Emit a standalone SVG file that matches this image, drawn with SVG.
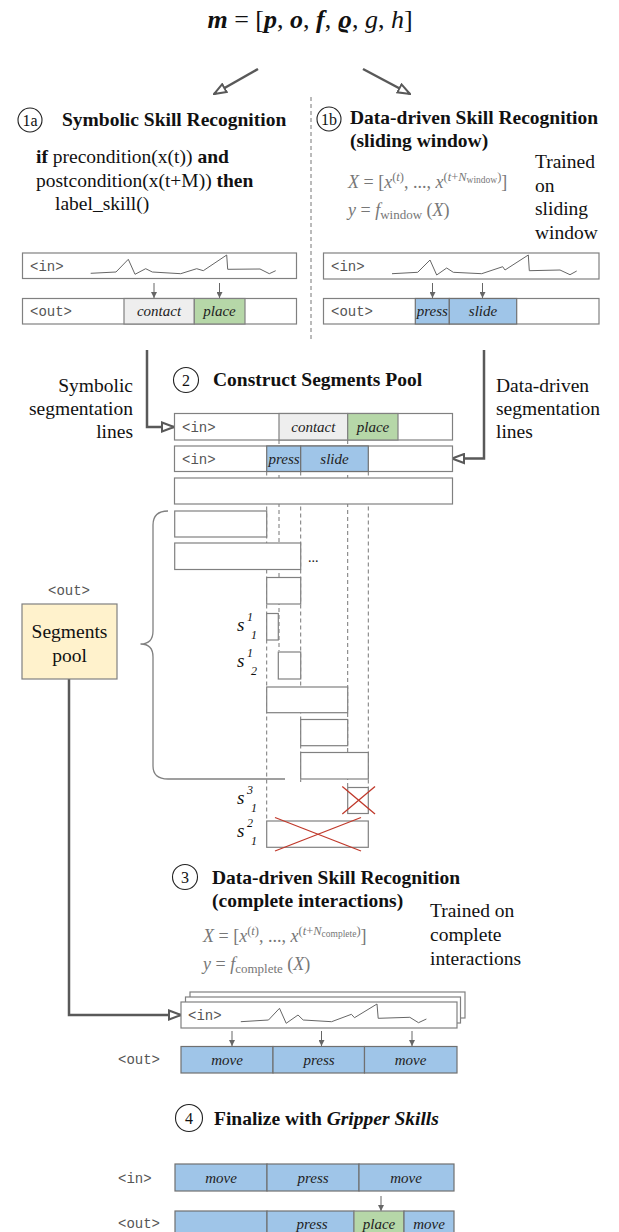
<svg xmlns="http://www.w3.org/2000/svg" width="619" height="1232" viewBox="0 0 619 1232">
<style>
.t{font-family:"Liberation Serif",serif;fill:#111}
.h{font-family:"Liberation Serif",serif;font-weight:bold;font-size:19.5px;fill:#111}
.b{font-family:"Liberation Serif",serif;font-size:19.5px;fill:#111}
.m{font-family:"Liberation Mono",monospace;font-size:14px;fill:#555}
.c{font-family:"Liberation Serif",serif;font-style:italic;font-size:15px;fill:#222;text-anchor:middle}
.fm{font-family:"Liberation Serif",serif;font-size:18px;fill:#777}
.box{fill:#fff;stroke:#808080;stroke-width:1.2}
.gr{fill:#eeeeee;stroke:#808080;stroke-width:1.2}
.gn{fill:#b6d7a8;stroke:#808080;stroke-width:1.2}
.bl{fill:#9fc5e8;stroke:#707070;stroke-width:1.2}
.circ{fill:#fff;stroke:#222;stroke-width:1.1}
.num{font-family:"Liberation Serif",serif;font-size:16px;fill:#111;text-anchor:middle}
.wave{fill:none;stroke:#666;stroke-width:1}
.big{fill:none;stroke:#595959;stroke-width:2.5;marker-end:url(#open)}
.sm{fill:none;stroke:#666;stroke-width:1;marker-end:url(#tri)}
.dash{fill:none;stroke:#777;stroke-width:1;stroke-dasharray:4 3}
.seg{fill:#fff;stroke:#808080;stroke-width:1.2}
.x{stroke:#c0392b;stroke-width:1.3;fill:none}
.si{font-family:"Liberation Serif",serif;font-style:italic;fill:#111}
</style>
<defs>
<marker id="open" viewBox="0 0 14 12" refX="13" refY="6" markerWidth="14" markerHeight="12" markerUnits="userSpaceOnUse" orient="auto">
<path d="M1,1.5 L13,6 L1,10.5 z" fill="#fff" stroke="#595959" stroke-width="2"/>
</marker>
<marker id="tri" viewBox="0 0 6 6" refX="6" refY="3" markerWidth="6" markerHeight="6" markerUnits="userSpaceOnUse" orient="auto">
<path d="M0,0 L6,3 L0,6 z" fill="#666"/>
</marker>
</defs>

<g id="formula-m">
<text class="t" x="310" y="28" text-anchor="middle" font-size="26"><tspan font-weight="bold" font-style="italic">m</tspan> = [<tspan font-weight="bold" font-style="italic">p</tspan>, <tspan font-weight="bold" font-style="italic">o</tspan>, <tspan font-weight="bold" font-style="italic">f</tspan>, <tspan font-weight="bold" font-style="italic">ϱ</tspan>, <tspan font-style="italic">g</tspan>, <tspan font-style="italic">h</tspan>]</text>
</g>

<g id="connectors">
<line class="big" x1="258" y1="69" x2="214" y2="94"/>
<line class="big" x1="363" y1="69" x2="410" y2="94"/>
<line class="dash" x1="311" y1="97" x2="311" y2="340" stroke-dasharray="3 2"/>
<path class="big" d="M147,350 V427 H174"/>
<path class="big" d="M484,350 V458.5 H452"/>
<path class="big" d="M69,679 V1015 H181"/>
<line class="sm" x1="154" y1="283" x2="154" y2="298"/>
<line class="sm" x1="219.5" y1="283" x2="219.5" y2="298"/>
<line class="sm" x1="432.5" y1="283" x2="432.5" y2="298"/>
<line class="sm" x1="482.5" y1="283" x2="482.5" y2="298"/>
<line class="sm" x1="232" y1="1031" x2="232" y2="1046"/>
<line class="sm" x1="321.5" y1="1031" x2="321.5" y2="1046"/>
<line class="sm" x1="412" y1="1031" x2="412" y2="1046"/>
<line class="sm" x1="381" y1="1196" x2="381" y2="1211"/>
<line class="dash" x1="279" y1="440" x2="279" y2="651"/>
<line class="dash" x1="347.7" y1="440" x2="347.7" y2="787"/>
<line class="dash" x1="266.7" y1="471.5" x2="266.7" y2="821"/>
<line class="dash" x1="300.7" y1="471.5" x2="300.7" y2="782"/>
<line class="dash" x1="368.3" y1="471.5" x2="368.3" y2="787"/>
<path d="M168,511 Q153,511 153,525 L153,631 Q153,644 140.5,644 Q153,644 153,657 L153,766 Q153,779 168,779 L285,779" fill="none" stroke="#808080" stroke-width="1.3"/>
</g>

<g id="step-1a">
<circle class="circ" cx="30" cy="120" r="12"/>
<text class="num" x="30" y="125.5">1a</text>
<text class="h" x="62" y="126">Symbolic Skill Recognition</text>
<text class="b" x="36" y="163"><tspan font-weight="bold">if</tspan> precondition(x(t)) <tspan font-weight="bold">and</tspan></text>
<text class="b" x="36" y="187">postcondition(x(t+M)) <tspan font-weight="bold">then</tspan></text>
<text class="b" x="55" y="210">label_skill()</text>
</g>

<g id="in-1a">
<rect class="box" x="22.5" y="253" width="274" height="25.5"/>
<text class="m" x="30" y="271">&lt;in&gt;</text>
<polyline class="wave" points="90.7,273.3 116,272 128.3,259.3 135,274.3 145.7,268.7 152.3,272 180.7,273.7 196.7,268.7 203.3,270.7 226.7,255 227.7,269.3 260,269 269.3,273.7 275.7,270.7"/>
</g>
<g id="out-1a">
<rect class="box" x="22.5" y="298.5" width="274" height="25.5"/>
<rect class="gr" x="124" y="298.5" width="70.3" height="25.5"/>
<rect class="gn" x="194.3" y="298.5" width="50.7" height="25.5"/>
<text class="m" x="30" y="316">&lt;out&gt;</text>
<text class="c" x="159" y="316">contact</text>
<text class="c" x="219.5" y="316">place</text>
</g>

<g id="step-1b">
<circle class="circ" cx="329" cy="119" r="12"/>
<text class="num" x="329" y="124.5">1b</text>
<text class="h" x="350" y="124">Data-driven Skill Recognition</text>
<text class="h" x="350" y="147">(sliding window)</text>
<text class="fm" x="348" y="188"><tspan font-style="italic">X</tspan> = [<tspan font-style="italic">x</tspan><tspan font-size="12.5" dy="-7.5">(<tspan font-style="italic">t</tspan>)</tspan><tspan dy="7.5">, ..., </tspan><tspan font-style="italic">x</tspan><tspan font-size="12.5" dy="-7.5">(<tspan font-style="italic">t</tspan>+<tspan font-style="italic">N</tspan></tspan><tspan font-size="9.5" dy="2.5">window</tspan><tspan font-size="12.5" dy="-2.5">)</tspan><tspan dy="7.5">]</tspan></text>
<text class="fm" x="348" y="216"><tspan font-style="italic">y</tspan> = <tspan font-style="italic">f</tspan><tspan font-size="13" dy="3">window</tspan><tspan dy="-3"> (<tspan font-style="italic">X</tspan>)</tspan></text>
<text class="b" x="535" y="168">Trained</text>
<text class="b" x="535" y="192">on</text>
<text class="b" x="535" y="215">sliding</text>
<text class="b" x="535" y="239">window</text>
</g>

<g id="in-1b">
<rect class="box" x="323.5" y="253" width="275.5" height="26"/>
<text class="m" x="331" y="271">&lt;in&gt;</text>
<polyline class="wave" points="392,273.7 417.7,272.3 430,260 436.7,275 446.7,268 453.3,272.3 481.7,273.7 502.7,266.7 505,270 528.3,255 529.3,270.7 560,270 570,274.7 576.7,271"/>
</g>
<g id="out-1b">
<rect class="box" x="323.5" y="298.5" width="275.5" height="25.5"/>
<rect class="bl" x="415.3" y="298.5" width="34" height="25.5"/>
<rect class="bl" x="449.3" y="298.5" width="67.4" height="25.5"/>
<text class="m" x="331" y="316">&lt;out&gt;</text>
<text class="c" x="432.3" y="316">press</text>
<text class="c" x="483" y="316">slide</text>
</g>

<g id="step-2">
<circle class="circ" cx="186" cy="380" r="12.5"/>
<text class="num" x="186" y="385.5">2</text>
<text class="h" x="213" y="386">Construct Segments Pool</text>
<text class="b" x="133" y="392" text-anchor="end">Symbolic</text>
<text class="b" x="133" y="415" text-anchor="end">segmentation</text>
<text class="b" x="133" y="438" text-anchor="end">lines</text>
<text class="b" x="496" y="392">Data-driven</text>
<text class="b" x="496" y="415">segmentation</text>
<text class="b" x="496" y="438">lines</text>
</g>

<g id="pool-sym">
<rect class="box" x="174.5" y="413.5" width="278" height="26.5"/>
<rect class="gr" x="279" y="413.5" width="68.7" height="26.5"/>
<rect class="gn" x="347.7" y="413.5" width="50.3" height="26.5"/>
<text class="m" x="182" y="432">&lt;in&gt;</text>
<text class="c" x="313.3" y="432">contact</text>
<text class="c" x="373" y="432">place</text>
</g>
<g id="pool-data">
<rect class="box" x="174.5" y="446" width="278" height="25.5"/>
<rect class="bl" x="266.7" y="446" width="34" height="25.5"/>
<rect class="bl" x="300.7" y="446" width="67.6" height="25.5"/>
<text class="m" x="182" y="464">&lt;in&gt;</text>
<text class="c" x="284" y="464">press</text>
<text class="c" x="334.5" y="464">slide</text>
</g>
<g id="pool-empty">
<rect class="box" x="174.5" y="478" width="278" height="26" fill="none"/>
</g>

<g id="segments">
<rect class="seg" x="174.7" y="511" width="92" height="26"/>
<rect class="seg" x="174.7" y="543" width="126" height="26.5"/>
<text class="t" x="308" y="562" font-size="14">...</text>
<rect class="seg" x="266.7" y="577.5" width="34" height="26.5"/>
<rect class="seg" x="266.7" y="613.5" width="11.6" height="26.5"/>
<rect class="seg" x="278.3" y="652" width="22.4" height="27"/>
<rect class="seg" x="266.7" y="687" width="81" height="25.7"/>
<rect class="seg" x="300.7" y="719.5" width="47" height="26.2"/>
<rect class="seg" x="300.7" y="752.5" width="67.6" height="26.5"/>
<rect class="seg" x="347.7" y="787.5" width="20.6" height="26"/>
<rect class="seg" x="266.7" y="821" width="101.6" height="26.3"/>
<line class="x" x1="342.3" y1="786.5" x2="375" y2="814"/>
<line class="x" x1="342.3" y1="814" x2="375" y2="786.5"/>
<line class="x" x1="275" y1="817.5" x2="361" y2="851"/>
<line class="x" x1="275" y1="851" x2="361" y2="817.5"/>
</g>

<g id="seg-labels">
<text class="si" x="237" y="631" font-size="19">s</text><text class="si" x="247" y="621" font-size="12">1</text><text class="si" x="251" y="639" font-size="12">1</text>
<text class="si" x="237" y="667" font-size="19">s</text><text class="si" x="247" y="657" font-size="12">1</text><text class="si" x="251" y="675" font-size="12">2</text>
<text class="si" x="237" y="804" font-size="19">s</text><text class="si" x="247" y="794" font-size="12">3</text><text class="si" x="251" y="812" font-size="12">1</text>
<text class="si" x="237" y="837" font-size="19">s</text><text class="si" x="247" y="827" font-size="12">2</text><text class="si" x="251" y="845" font-size="12">1</text>
</g>

<g id="segments-pool">
<text class="m" x="69" y="595" text-anchor="middle">&lt;out&gt;</text>
<rect x="22" y="604" width="95" height="75" fill="#fff2cc" stroke="#808080" stroke-width="1.2"/>
<text class="b" x="69.5" y="638" text-anchor="middle" font-size="20">Segments</text>
<text class="b" x="69.5" y="662" text-anchor="middle" font-size="20">pool</text>
</g>

<g id="step-3">
<circle class="circ" cx="185" cy="877" r="12.5"/>
<text class="num" x="185" y="882.5">3</text>
<text class="h" x="212" y="884">Data-driven Skill Recognition</text>
<text class="h" x="212" y="907">(complete interactions)</text>
<text class="fm" x="203" y="942"><tspan font-style="italic">X</tspan> = [<tspan font-style="italic">x</tspan><tspan font-size="12.5" dy="-7.5">(<tspan font-style="italic">t</tspan>)</tspan><tspan dy="7.5">, ..., </tspan><tspan font-style="italic">x</tspan><tspan font-size="12.5" dy="-7.5">(<tspan font-style="italic">t</tspan>+<tspan font-style="italic">N</tspan></tspan><tspan font-size="9.5" dy="2.5">complete</tspan><tspan font-size="12.5" dy="-2.5">)</tspan><tspan dy="7.5">]</tspan></text>
<text class="fm" x="203" y="970"><tspan font-style="italic">y</tspan> = <tspan font-style="italic">f</tspan><tspan font-size="13" dy="3">complete</tspan><tspan dy="-3"> (<tspan font-style="italic">X</tspan>)</tspan></text>
<text class="b" x="430" y="917">Trained on</text>
<text class="b" x="430" y="941">complete</text>
<text class="b" x="430" y="965">interactions</text>
</g>

<g id="in-3">
<rect class="box" x="190" y="992" width="275" height="26"/>
<rect class="box" x="185.5" y="997" width="275" height="26"/>
<rect class="box" x="181" y="1002" width="276" height="26"/>
<text class="m" x="188" y="1020">&lt;in&gt;</text>
<polyline class="wave" points="240.8,1021.7 268.5,1020 279.5,1008.3 286.2,1023.3 298,1015 303.2,1020 331.6,1021.7 351.4,1014.3 354.5,1017.7 377,1004 378.2,1018.3 409.8,1017.3 418.5,1022.7 426.4,1019"/>
</g>
<g id="out-3">
<text class="m" x="118" y="1064">&lt;out&gt;</text>
<rect class="bl" x="181" y="1046.5" width="92" height="26.5"/>
<rect class="bl" x="273" y="1046.5" width="91.5" height="26.5"/>
<rect class="bl" x="364.5" y="1046.5" width="92.5" height="26.5"/>
<text class="c" x="227" y="1065">move</text>
<text class="c" x="319" y="1065">press</text>
<text class="c" x="410.5" y="1065">move</text>
</g>

<g id="step-4">
<circle class="circ" cx="189" cy="1118" r="13.5"/>
<text class="num" x="189" y="1123.5">4</text>
<text class="h" x="214" y="1125">Finalize with <tspan font-style="italic">Gripper Skills</tspan></text>
</g>

<g id="in-4">
<text class="m" x="118" y="1183">&lt;in&gt;</text>
<rect class="bl" x="175" y="1164" width="92" height="27"/>
<rect class="bl" x="267" y="1164" width="92" height="27"/>
<rect class="bl" x="359" y="1164" width="95" height="27"/>
<text class="c" x="221" y="1183">move</text>
<text class="c" x="313" y="1183">press</text>
<text class="c" x="406" y="1183">move</text>
</g>
<g id="out-4">
<text class="m" x="118" y="1228">&lt;out&gt;</text>
<rect class="bl" x="175" y="1211" width="92" height="27"/>
<rect class="bl" x="267" y="1211" width="87" height="27"/>
<rect class="gn" x="354" y="1211" width="50" height="27"/>
<rect class="bl" x="404" y="1211" width="50" height="27"/>
<text class="c" x="312" y="1229">press</text>
<text class="c" x="379" y="1229">place</text>
<text class="c" x="429" y="1229">move</text>
</g>
</svg>
